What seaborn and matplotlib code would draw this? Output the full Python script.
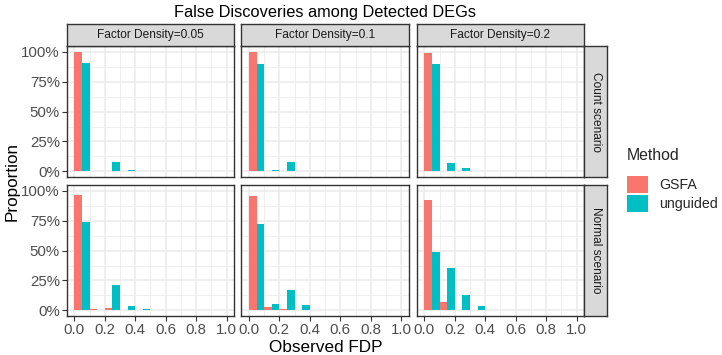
import numpy as np
import pandas as pd
import matplotlib
matplotlib.use("Agg")
import matplotlib.pyplot as plt
from matplotlib.patches import Patch
from matplotlib.ticker import FuncFormatter, MultipleLocator
import seaborn as sns

# ---------------- data ----------------
methods = ["GSFA", "unguided"]
densities = ["Factor Density=0.05", "Factor Density=0.1", "Factor Density=0.2"]
scenarios = ["Count scenario", "Normal scenario"]
bin_centers = [0.05, 0.15, 0.25, 0.35, 0.45, 0.55]

# proportions per bin (bins 0-0.1, 0.1-0.2, ..., 0.5-0.6)
count_005_gsfa = [1.00, 0.0, 0.0, 0.0, 0.0, 0.0]
count_005_ung = [0.905, 0.0, 0.078, 0.014, 0.003, 0.0]
count_01_gsfa = [1.00, 0.0, 0.0, 0.0, 0.0, 0.0]
count_01_ung = [0.90, 0.012, 0.075, 0.006, 0.003, 0.0]
count_02_gsfa = [0.995, 0.005, 0.0, 0.0, 0.0, 0.0]
count_02_ung = [0.90, 0.072, 0.024, 0.002, 0.0, 0.0]
normal_005_gsfa = [0.97, 0.01, 0.018, 0.0, 0.0, 0.0]
normal_005_ung = [0.74, 0.005, 0.21, 0.033, 0.008, 0.004]
normal_01_gsfa = [0.96, 0.03, 0.008, 0.0, 0.0, 0.0]
normal_01_ung = [0.72, 0.055, 0.17, 0.048, 0.006, 0.0]
normal_02_gsfa = [0.925, 0.07, 0.005, 0.0, 0.0, 0.0]
normal_02_ung = [0.49, 0.355, 0.125, 0.037, 0.0, 0.0]

panel_values = {
    ("Count scenario", "Factor Density=0.05"): (count_005_gsfa, count_005_ung),
    ("Count scenario", "Factor Density=0.1"): (count_01_gsfa, count_01_ung),
    ("Count scenario", "Factor Density=0.2"): (count_02_gsfa, count_02_ung),
    ("Normal scenario", "Factor Density=0.05"): (normal_005_gsfa, normal_005_ung),
    ("Normal scenario", "Factor Density=0.1"): (normal_01_gsfa, normal_01_ung),
    ("Normal scenario", "Factor Density=0.2"): (normal_02_gsfa, normal_02_ung),
}

x_ticks = [0.0, 0.2, 0.4, 0.6, 0.8, 1.0]
x_ticklabels = ["0.0", "0.2", "0.4", "0.6", "0.8", "1.0"]
y_ticks = [0, 0.25, 0.5, 0.75, 1.0]

rows = []
for (sc, de), (g, u) in panel_values.items():
    for m, vals in zip(methods, (g, u)):
        for c, v in zip(bin_centers, vals):
            rows.append(dict(scenario=sc, density=de, Method=m, FDP=c, prop=v))
df = pd.DataFrame(rows)

# ---------------- style ----------------
sns.set_theme(style="white")
plt.rcParams["font.family"] = ["Liberation Sans", "DejaVu Sans"]
palette = {"GSFA": "#F8766D", "unguided": "#00BFC4"}
grid_c = "#EBEBEB"
border_c = "#333333"
tick_text_c = "#4D4D4D"

W, H = 722, 355
fig = plt.figure(figsize=(W / 100, H / 100), dpi=100)

px_left = [66.7, 241.3, 416.7]
px_w = 167.5
px_top = [46.0, 185.0]
px_h = 131.3

for r, sc in enumerate(scenarios):
    for c, de in enumerate(densities):
        l = px_left[c] / W
        b = 1 - (px_top[r] + px_h) / H
        ax = fig.add_axes([l, b, px_w / W, px_h / H])
        sub = df[(df.scenario == sc) & (df.density == de)].reset_index(drop=True)
        sns.histplot(data=sub, x="FDP", weights="prop", hue="Method",
                     hue_order=methods, palette=palette, binwidth=0.1,
                     binrange=(0, 1), multiple="dodge", shrink=1, stat="count",
                     alpha=1, linewidth=0, legend=False, ax=ax)
        ax.set_xlim(-0.05, 1.05)
        ax.set_ylim(-0.05, 1.05)
        ax.set_xticks(x_ticks)
        ax.xaxis.set_minor_locator(MultipleLocator(0.1))
        ax.set_yticks(y_ticks)
        ax.yaxis.set_minor_locator(MultipleLocator(0.125))
        ax.grid(True, which="major", color=grid_c, linewidth=1.1)
        ax.grid(True, which="minor", color=grid_c, linewidth=0.55)
        ax.set_axisbelow(True)
        for s in ax.spines.values():
            s.set_color(border_c)
            s.set_linewidth(1.0)
            s.set_zorder(5)
        ax.tick_params(which="major", length=3.5, width=0.8, color=border_c,
                       labelsize=10.8, labelcolor=tick_text_c, pad=1.5,
                       bottom=(r == 1), left=(c == 0))
        ax.tick_params(which="minor", length=0)
        ax.set_xlabel("")
        ax.set_ylabel("")
        if r == 1:
            ax.set_xticklabels(x_ticklabels)
        else:
            ax.set_xticklabels([])
        if c == 0:
            ax.yaxis.set_major_formatter(FuncFormatter(lambda v, p: f"{int(round(v*100))}%"))
        else:
            ax.set_yticklabels([])
        # column strip
        if r == 0:
            sax = fig.add_axes([l, 1 - px_top[0] / H, px_w / W, 22.0 / H])
            sax.set_facecolor("#D9D9D9")
            sax.set_xticks([]); sax.set_yticks([])
            for s in sax.spines.values():
                s.set_color(border_c); s.set_linewidth(1.0)
            sax.text(0.5, 0.5, de, ha="center", va="center", fontsize=8.6,
                     color="#1A1A1A", transform=sax.transAxes)
        # row strip
        if c == 2:
            rax = fig.add_axes([(px_left[2] + px_w) / W, b, 22.7 / W, px_h / H])
            rax.set_facecolor("#D9D9D9")
            rax.set_xticks([]); rax.set_yticks([])
            for s in rax.spines.values():
                s.set_color(border_c); s.set_linewidth(1.0)
            rax.text(0.5, 0.5, sc, ha="center", va="center", fontsize=8.6,
                     rotation=-90, color="#1A1A1A", transform=rax.transAxes)

# titles
fig.text((66.7 + 584) / 2 / W, 1 - 12 / H, "False Discoveries among Detected DEGs",
         ha="center", va="center", fontsize=11.8, color="black")
fig.text((66.7 + 584) / 2 / W, 1 - 347 / H, "Observed FDP",
         ha="center", va="center", fontsize=12.3, color="black")
fig.text(12 / W, 1 - (46 + 316.7) / 2 / H, "Proportion", rotation=90,
         ha="center", va="center", fontsize=12.3, color="black")

handles = [Patch(facecolor=palette[m], edgecolor="none", label=m) for m in methods]
leg = fig.legend(handles=handles, title="Method", loc="upper left",
                 bbox_to_anchor=(627 / W, 1 - 148 / H), frameon=False,
                 fontsize=10.2, title_fontsize=11.4, handlelength=1.5,
                 handleheight=1.55, handletextpad=0.8, labelspacing=0.1,
                 borderaxespad=0, borderpad=0)
leg._legend_box.align = "left"
leg._legend_box.sep = 9

fig.savefig("out.png", dpi=100)
